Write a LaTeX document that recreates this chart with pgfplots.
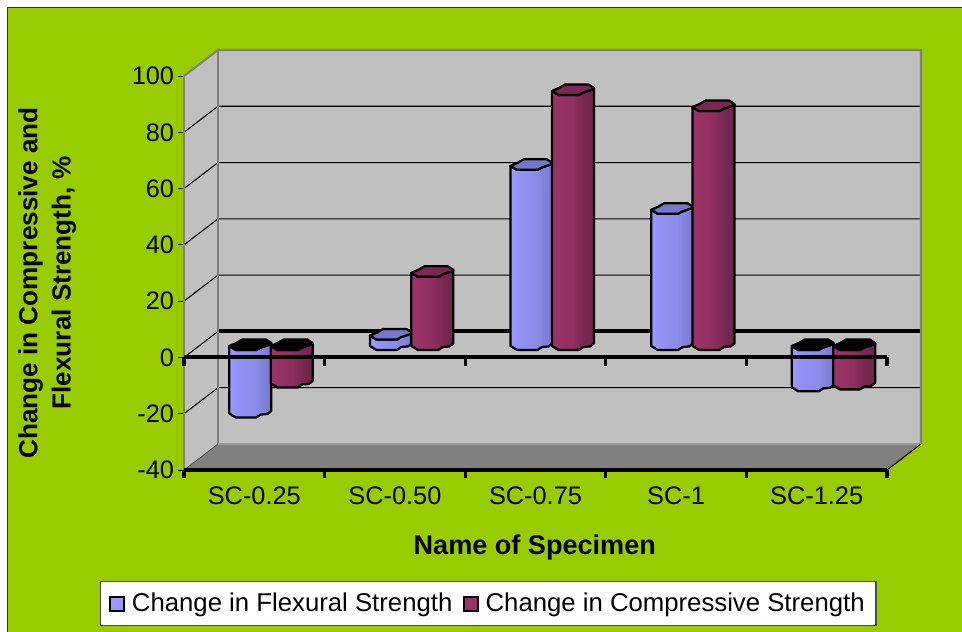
\documentclass[border=0pt]{standalone}
\usepackage{fontspec}
\setmainfont{Liberation Sans}
\usepackage{pgfplots}
\pgfplotsset{compat=1.18}

\definecolor{bgreen}{HTML}{99CC00}
\definecolor{wall}{HTML}{C0C0C0}
\definecolor{edge}{HTML}{808080}
\definecolor{flex}{HTML}{9999FF}
\definecolor{flexcap}{HTML}{7777CC}
\definecolor{comp}{HTML}{993366}
\definecolor{compcap}{HTML}{7A2952}

% the bar's width spans 25bp to 75bp of these shadings
\pgfdeclarehorizontalshading{flexbody}{100bp}{
  color(0bp)=(flex); color(27bp)=(flex); color(36bp)=(flex!78!flexcap);
  color(56bp)=(flex!58!flexcap); color(66bp)=(flex!30!flexcap);
  color(75bp)=(flexcap); color(100bp)=(flexcap)}
\pgfdeclarehorizontalshading{compbody}{100bp}{
  color(0bp)=(comp); color(30bp)=(comp); color(50bp)=(comp!65!compcap);
  color(62bp)=(compcap); color(75bp)=(compcap!88!black); color(100bp)=(compcap!88!black)}

% Scale of the axis: 140.6 units of length per category, 2.814 per percent
\newcommand{\addpt}[3]{%
  \pgfmathsetmacro{\ptx}{\cylx+(#1)/140.6}%
  \pgfmathsetmacro{\pty}{#2-(#3)/2.814}%
  \xdef\ptlist{\ptlist (\ptx,\pty)}}

% #1 category index, #2 side (-1 or 1), #3 value, #4 shading, #5 cap colour
\newcommand{\cyl}[5]{%
  \pgfmathsetmacro{\cylx}{#1+0.619+(#2)*20.7/140.6}%
  \pgfmathsetmacro{\hi}{max(#3,0)+4.6}%
  \pgfmathsetmacro{\lo}{min(#3,0)+4.6}%
  % body: lower rim of the base, then back along the front rim of the top
  \gdef\ptlist{}%
  \addpt{-21}{\hi}{1.5}\addpt{-21}{\lo}{1.5}\addpt{-14.5}{\lo}{5.5}%
  \addpt{6}{\lo}{5.5}\addpt{10.5}{\lo}{2.5}\addpt{17}{\lo}{2}\addpt{21}{\lo}{-1}%
  \addpt{21}{\hi}{-0.5}\addpt{10.5}{\hi}{3}\addpt{6}{\hi}{5.5}%
  \addpt{-14.5}{\hi}{5.5}%
  \edef\cmd{\noexpand\addplot[forget plot,shade,shading=#4,draw=black,
    line width=1.7pt,line join=round] coordinates {\ptlist} -- cycle;}\cmd
  % top face
  \gdef\ptlist{}%
  \addpt{-21}{\hi}{1.5}\addpt{-14}{\hi}{-1.5}\addpt{-8}{\hi}{-5}\addpt{15.5}{\hi}{-5}%
  \addpt{21}{\hi}{-1.5}\addpt{21}{\hi}{-0.5}\addpt{10.5}{\hi}{3}\addpt{6}{\hi}{5.5}%
  \addpt{-14.5}{\hi}{5.5}%
  \edef\cmd{\noexpand\addplot[forget plot,fill=#5,draw=black,
    line width=1.7pt,line join=round] coordinates {\ptlist} -- cycle;}\cmd
}

\begin{document}
\begin{tikzpicture}
\useasboundingbox (0,0) rectangle (721.5pt,473.25pt);
\fill[white] (0,0) rectangle (721.5pt,473.25pt);
\begin{scope}
\clip (0,0) rectangle (721.5pt,473.25pt);
\draw[fill=bgreen,draw=black!80,line width=1.1pt] (5.6pt,467.6pt) rectangle (740pt,-20pt);
\end{scope}
\begin{axis}[
  at={(138pt,120.75pt)},anchor=south west,
  scale only axis,width=527.25pt,height=295.5pt,
  xmin=0,xmax=5,ymin=-40,ymax=100,clip=false,
  axis line style={draw=none},
  axis x line*=bottom,axis y line*=left,
  xtick={0.5,1.5,2.5,3.5,4.5},
  xticklabels={SC-0.25,SC-0.50,SC-0.75,SC-1,SC-1.25},
  minor xtick={0,1,2,3,4,5},
  major x tick style={draw=none},
  minor x tick style={draw=black,line width=2.4pt},
  minor tick length=6pt,
  ytick={-40,-20,...,100},
  major y tick style={draw=black,line width=0.7pt},
  major tick length=4.5pt,
  tick align=outside,
  /pgf/number format/assume math mode=true,
  tick label style={font=\fontsize{19pt}{20pt}\selectfont},
  xticklabel style={yshift=-4.5pt},
  yticklabel style={xshift=0.6pt},
  xlabel={Name of Specimen},
  xlabel style={font=\fontsize{20.3pt}{22pt}\selectfont\bfseries,
    at={(axis description cs:0.499,-0.1955)},anchor=center},
  ylabel={Change in Compressive and\\Flexural Strength, \%},
  ylabel style={font=\fontsize{19.6pt}{25pt}\selectfont\bfseries,align=center,
    at={(axis description cs:-0.1945,0.4746)},anchor=center},
  legend columns=2,
  legend image code/.code={\draw[#1] (0pt,-5.2pt) rectangle (10.4pt,5.2pt);},
  legend style={at={(axis description cs:0.433,-0.339)},anchor=center,
    fill=white,draw=black!70,line width=0.9pt,inner xsep=6.5pt,inner ysep=6.7pt,
    font=\fontsize{19.3pt}{22pt}\selectfont,
    /tikz/column 2/.style={column sep=6pt},
    /tikz/column 1/.style={column sep=3pt},
    /tikz/column 3/.style={column sep=3pt}},
]
% side wall, back wall and floor
\addplot[forget plot,fill=wall,draw=none] coordinates {(0,-40)(0,100)(0.2418,109.24)(0.2418,-30.76)} -- cycle;
\addplot[forget plot,fill=wall,draw=none] coordinates {(0.2418,-30.76)(0.2418,109.24)(5.2418,109.24)(5.2418,-30.76)} -- cycle;
\addplot[forget plot,fill=edge,draw=none] coordinates {(0,-40)(5,-40)(5.2418,-30.76)(0.2418,-30.76)} -- cycle;

% gridlines across the back wall and down the side wall
\pgfplotsinvokeforeach{-20,20,40,60,80}{
  \addplot[forget plot,black,line width=0.8pt] coordinates {(0,#1)(0.2418,#1+9.24)(5.2418,#1+9.24)};
}
\addplot[forget plot,black,line width=0.8pt] coordinates {(0,0)(0.2418,9.24)};
\addplot[forget plot,black,line width=3pt] coordinates {(0.2418,9.24)(5.2418,9.24)};

% wall outlines
\addplot[forget plot,edge,line width=1.6pt,line join=round] coordinates {(0,100)(0.2418,109.24)(5.2418,109.24)(5.2418,-30.76)};
\addplot[forget plot,edge,line width=1.6pt] coordinates {(0.2418,109.24)(0.2418,-30.76)};
\addplot[forget plot,edge,line width=1pt] coordinates {(0,100)(0,-40)};
\addplot[forget plot,black!40!edge,line width=0.6pt] coordinates {(0,-40)(0.2418,-30.76)};
\addplot[forget plot,gray!80,line width=1.2pt] coordinates {(0.2418,-30.76)(5.2418,-30.76)};
\addplot[forget plot,black,line width=0.8pt] coordinates {(5,-40)(5.2418,-30.76)};

% change in flexural (blue) and compressive (red) strength, per specimen
\cyl{0}{-1}{-24.0}{flexbody}{black}
\cyl{0}{1}{-13.3}{compbody}{black}
\cyl{1}{-1}{3.7}{flexbody}{flexcap}
\cyl{1}{1}{26.0}{compbody}{compcap}
\cyl{2}{-1}{64.0}{flexbody}{flexcap}
\cyl{2}{1}{90.6}{compbody}{compcap}
\cyl{3}{-1}{48.4}{flexbody}{flexcap}
\cyl{3}{1}{84.9}{compbody}{compcap}
\cyl{4}{-1}{-14.7}{flexbody}{black}
\cyl{4}{1}{-14.0}{compbody}{black}

% the two heavy category axes in front, the upper one with its ticks
\addplot[forget plot,black,line width=3pt] coordinates {(0,0)(5,0)};
\pgfplotsinvokeforeach{0,1,2,3,4,5}{
  \addplot[forget plot,black,line width=2.4pt] coordinates {(#1,0)(#1,-3)};
}
\addplot[forget plot,black,line width=3pt] coordinates {(0,-40)(5,-40)};

\addlegendimage{fill=flex,draw=black,line width=1.5pt}
\addlegendentry{Change in Flexural Strength}
\addlegendimage{fill=comp,draw=black,line width=1.5pt}
\addlegendentry{Change in Compressive Strength}
\end{axis}
\end{tikzpicture}
\end{document}
